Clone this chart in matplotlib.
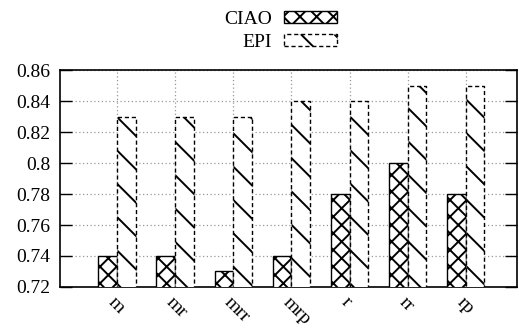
import numpy as np
import matplotlib.pyplot as plt
import matplotlib.transforms as mtransforms

categorias = ["m", "mr", "mrr", "mrp", "r", "rr", "rp"]
ciao = [0.74, 0.74, 0.73, 0.74, 0.78, 0.80, 0.78]
epi = [0.83, 0.83, 0.83, 0.84, 0.84, 0.85, 0.85]
yticks = [0.72, 0.74, 0.76, 0.78, 0.8, 0.82, 0.84, 0.86]
ytick_labels = ["0.72", "0.74", "0.76", "0.78", "0.8", "0.82", "0.84", "0.86"]

plt.rcParams["font.family"] = ["Liberation Serif", "DejaVu Serif"]
plt.rcParams["font.size"] = 14
plt.rcParams["hatch.linewidth"] = 1.4

fig = plt.figure(figsize=(5.19, 3.29), dpi=100)
ax = fig.add_axes([0.1156, 0.1277, 0.8804, 0.6593])

x = np.arange(len(categorias))
largura = 0.32

ax.bar(x - largura / 2, ciao, largura, color="white",
       edgecolor="black", hatch="xx", linewidth=1.0, label="CIAO", zorder=3)
ax.bar(x + largura / 2, epi, largura, color="white", edgecolor="black",
       hatch="\\", linewidth=1.0, linestyle=(0, (3, 2)), label="EPI", zorder=3)

ax.set_ylim(0.72, 0.86)
ax.set_xlim(-0.98, 6.88)
ax.set_yticks(yticks)
ax.set_yticklabels(ytick_labels)
ax.set_xticks(x)
ax.set_xticklabels(categorias, rotation=-45, ha="left", va="top",
                   rotation_mode="anchor")

# desloca os rotulos do eixo x um pouco para a direita
deslocamento = mtransforms.ScaledTranslation(0.05, 0, fig.dpi_scale_trans)
for rotulo in ax.get_xticklabels():
    rotulo.set_transform(rotulo.get_transform() + deslocamento)

ax.tick_params(axis="y", direction="in", length=8.5, width=1,
               right=True, pad=7)
ax.tick_params(axis="x", length=0, pad=5)
ax.grid(True, color="#999999", linestyle=(0, (1, 2)), linewidth=0.9, zorder=0)
for lado in ax.spines.values():
    lado.set_linewidth(1.2)

ax.legend(loc="center", bbox_to_anchor=(0.54, 0.906),
          bbox_transform=fig.transFigure, frameon=False, markerfirst=False,
          handlelength=2.73, handleheight=0.62, labelspacing=0.3,
          handletextpad=0.62, borderpad=0)

fig.savefig("out.png", dpi=100)
